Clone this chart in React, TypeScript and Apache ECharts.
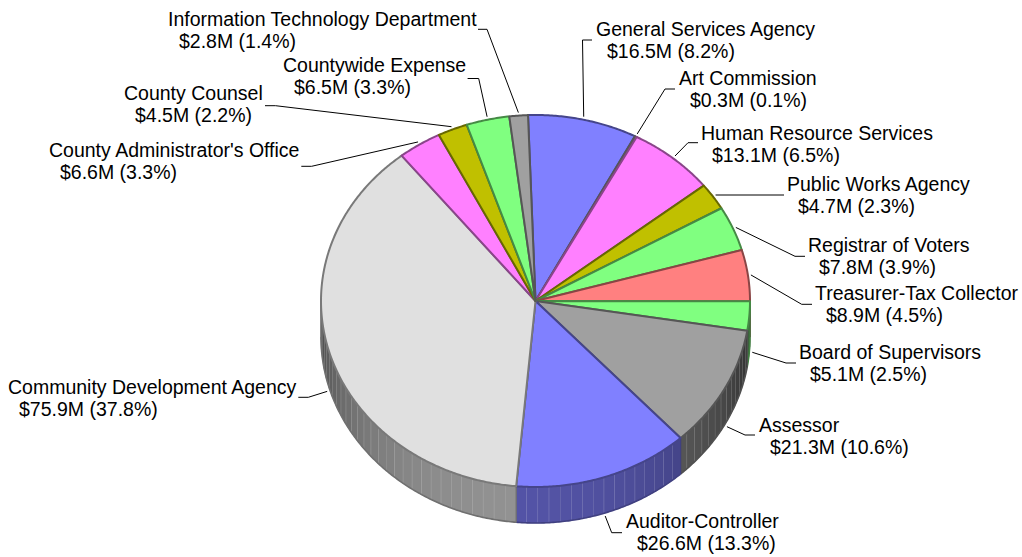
import React, { useEffect, useRef } from "react";
import * as echarts from "echarts";

const categories = [
  "General Services Agency", "Art Commission", "Human Resource Services", "Public Works Agency",
  "Registrar of Voters", "Treasurer-Tax Collector", "Board of Supervisors", "Assessor",
  "Auditor-Controller", "Community Development Agency", "County Administrator's Office",
  "County Counsel", "Countywide Expense", "Information Technology Department",
];
const values = [16.5, 0.3, 13.1, 4.7, 7.8, 8.9, 5.1, 21.3, 26.6, 75.9, 6.6, 4.5, 6.5, 2.8];
const percents = ["8.2", "0.1", "6.5", "2.3", "3.9", "4.5", "2.5", "10.6", "13.3", "37.8", "3.3", "2.2", "3.3", "1.4"];
const colors = [
  "#8080ff", "#a0a0a0", "#ff80ff", "#c0c000", "#80ff80", "#ff8080", "#80ff80",
  "#a0a0a0", "#8080ff", "#e0e0e0", "#ff80ff", "#c0c000", "#80ff80", "#a0a0a0",
];

// Layout: text left edge, first-line middle y, elbow of the leader, horizontal end of the leader
const labelLayout: number[][] = [
  [596, 29, 582.5, 40, 592],
  [679, 78, 665, 89, 675],
  [701, 133, 688, 142.7, 698],
  [787, 184, 716, 195, 784],
  [808, 245, 795, 256.3, 805],
  [815, 293, 801.7, 304.3, 812],
  [799, 352, 786, 363, 796],
  [759, 425, 745, 435, 755],
  [626, 521, 611.7, 532.7, 622],
  [8, 387, 308.3, 397.3, 298.3],
  [49, 150, 311.6, 166.3, 301.3],
  [124, 93, 275.5, 105.7, 265],
  [283, 65, 478.7, 78.5, 467.6],
  [168, 19, 487, 29.3, 478],
];

const CX = 535.5;
const CY = 301;
const RX = 214.5;
const RY = 186;
const DEPTH = 36;
const START = -2;
const FONT = '19.5px "Liberation Sans", Arial, sans-serif';

const total = values.reduce((a, b) => a + b, 0);
const startAngle = (i: number) => START + (values.slice(0, i).reduce((a, b) => a + b, 0) / total) * 360;
const endAngle = (i: number) => startAngle(i + 1);

const pt = (deg: number, dy = 0, dr = 0): number[] => {
  const a = (deg * Math.PI) / 180;
  return [CX + (RX + dr) * Math.sin(a), CY - (RY + dr) * Math.cos(a) + dy];
};
const arc = (a0: number, a1: number, dy = 0): number[][] => {
  const out: number[][] = [];
  const n = Math.max(1, Math.ceil(Math.abs(a1 - a0) / 0.5));
  for (let k = 0; k <= n; k++) out.push(pt(a0 + ((a1 - a0) * k) / n, dy));
  return out;
};
const shade = (hex: string, f: number) => {
  const n = parseInt(hex.slice(1), 16);
  const c = [(n >> 16) & 255, (n >> 8) & 255, n & 255].map((v) => Math.round(v * f));
  return `rgb(${c[0]},${c[1]},${c[2]})`;
};
const sideFactor = (deg: number) => 0.3 + 0.35 * Math.max(0, Math.cos(((deg - 185) * Math.PI) / 180));

function renderSide(params: any) {
  const i = params.dataIndex;
  const a0 = Math.max(startAngle(i), 90);
  const a1 = Math.min(endAngle(i), 270);
  const children: any[] = [];
  if (a1 <= a0) return { type: "group", children };
  const base = startAngle(i);
  let s = a0;
  while (s < a1 - 1e-6) {
    const step = Math.floor((s - base) / 3 + 1e-6);
    const e = Math.min(base + (step + 1) * 3, a1);
    const top = arc(s, e);
    const bottom = arc(e, s, DEPTH);
    const fill = shade(colors[i], sideFactor((s + e) / 2));
    children.push({
      type: "polygon",
      shape: { points: top.concat(bottom) },
      style: { fill, stroke: fill, lineWidth: 0.4 },
      silent: true,
    });
    if (e < a1 - 1e-6) {
      const p = pt(e);
      const q = pt(e, DEPTH);
      children.push({
        type: "line",
        shape: { x1: p[0], y1: p[1], x2: q[0], y2: q[1] },
        style: { stroke: "rgba(255,255,255,0.28)", lineWidth: 1 },
        silent: true,
      });
    }
    s = e;
  }
  children.push({
    type: "polyline",
    shape: { points: arc(a0, a1, DEPTH) },
    style: { stroke: shade(colors[i], 0.5), lineWidth: 1.6, fill: "none" },
    silent: true,
  });
  const edge0 = pt(a0);
  const edge0b = pt(a0, DEPTH);
  const edge1 = pt(a1);
  const edge1b = pt(a1, DEPTH);
  children.push({
    type: "line",
    shape: { x1: edge0[0], y1: edge0[1], x2: edge0b[0], y2: edge0b[1] },
    style: { stroke: shade(colors[i], 0.5), lineWidth: 1.2 },
    silent: true,
  });
  children.push({
    type: "line",
    shape: { x1: edge1[0], y1: edge1[1], x2: edge1b[0], y2: edge1b[1] },
    style: { stroke: shade(colors[i], 0.5), lineWidth: 1.2 },
    silent: true,
  });
  return { type: "group", children };
}

function renderTop(params: any) {
  const i = params.dataIndex;
  return {
    type: "polygon",
    shape: { points: [[CX, CY] as number[]].concat(arc(startAngle(i), endAngle(i))) },
    style: { fill: colors[i], stroke: shade(colors[i], 0.54), lineWidth: 2, lineJoin: "round" },
    silent: true,
  };
}

function renderLabel(params: any) {
  const i = params.dataIndex;
  const [tx, ty, ex, ey, hx] = labelLayout[i];
  const mid = (startAngle(i) + endAngle(i)) / 2;
  const anchor = pt(mid, mid > 90 && mid < 270 ? DEPTH : 0, 3);
  return {
    type: "group",
    children: [
      {
        type: "polyline",
        shape: { points: [anchor, [ex, ey], [hx, ey]] },
        style: { stroke: "#000", lineWidth: 1, fill: "none" },
        silent: true,
      },
      {
        type: "text",
        style: { text: categories[i], x: tx, y: ty, font: FONT, fill: "#000", align: "left", verticalAlign: "middle" },
        silent: true,
      },
      {
        type: "text",
        style: {
          text: `$${values[i].toFixed(1)}M (${percents[i]}%)`,
          x: tx + 11,
          y: ty + 22.3,
          font: FONT,
          fill: "#000",
          align: "left",
          verticalAlign: "middle",
        },
        silent: true,
      },
    ],
  };
}

export default function App() {
  const ref = useRef<HTMLDivElement>(null);
  useEffect(() => {
    const chart = echarts.init(ref.current!, undefined, { renderer: "svg" });
    const data = values.map((v, i) => [i, v]);
    chart.setOption({
      animation: false,
      backgroundColor: "#fff",
      series: [
        { type: "custom", coordinateSystem: "none", data, renderItem: renderSide, z: 1, silent: true },
        { type: "custom", coordinateSystem: "none", data, renderItem: renderTop, z: 2, silent: true },
        { type: "custom", coordinateSystem: "none", data, renderItem: renderLabel, z: 3, silent: true },
      ],
    });
    return () => chart.dispose();
  }, []);
  return <div ref={ref} style={{ position: "absolute", left: 0, top: 0, width: 1022, height: 557 }} />;
}
